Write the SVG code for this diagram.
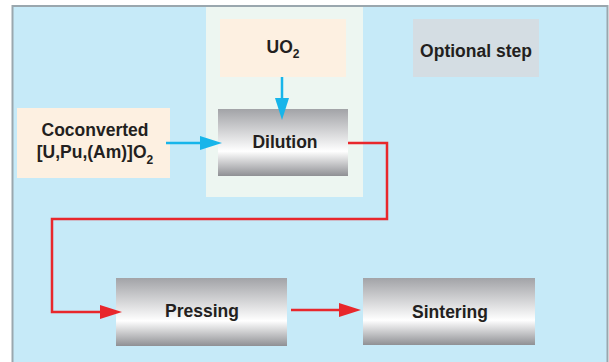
<svg xmlns="http://www.w3.org/2000/svg" width="609" height="362" viewBox="0 0 609 362">
<style>
.t{font-family:"Liberation Sans",Arial,sans-serif;font-weight:bold;font-size:17.5px;fill:#231f20;text-anchor:middle}
.peach{fill:#fdf0e1}
.proc{fill:url(#g)}
.blue{stroke:#17b5ea;stroke-width:2.5;fill:none}
.red{stroke:#e8272c;stroke-width:2.5;fill:none}
</style>
<defs>
<linearGradient id="g" x1="0" y1="0" x2="0" y2="1">
<stop offset="0" stop-color="#a2a3a7"/>
<stop offset="0.63" stop-color="#ffffff"/>
<stop offset="1" stop-color="#8f9094"/>
</linearGradient>
<marker id="ab" markerUnits="userSpaceOnUse" markerWidth="24" markerHeight="14" refX="12" refY="7" orient="auto" viewBox="0 0 24 14">
<path d="M0,0 L22,7 L0,14 Z" fill="#17b5ea"/>
</marker>
<marker id="ar" markerUnits="userSpaceOnUse" markerWidth="24" markerHeight="14" refX="12" refY="7" orient="auto" viewBox="0 0 24 14">
<path d="M0,0 L22,7 L0,14 Z" fill="#e8272c"/>
</marker>
</defs>
<rect x="12.5" y="6" width="595" height="362" fill="#c6eaf8" stroke="#9aa7ae" stroke-width="2"/>
<g id="optional-region"><rect x="206" y="7" width="157" height="190" fill="#edf6f1"/></g>
<g id="optional-step"><rect x="413" y="19" width="126" height="58" fill="#d4dde3"/><text class="t" x="476" y="57">Optional step</text></g>
<g id="uo2"><rect class="peach" x="220" y="19" width="126" height="58"/><text class="t" x="283" y="53">UO<tspan font-size="12" dy="5">2</tspan></text></g>
<g id="coconverted"><rect class="peach" x="17" y="108" width="153" height="70"/><text class="t" x="95" y="136">Coconverted</text><text class="t" x="95" y="158">[U,Pu,(Am)]O<tspan font-size="12" dy="6">2</tspan></text></g>
<g id="dilution"><rect class="proc" x="218" y="109" width="130" height="67"/><text class="t" x="285" y="148">Dilution</text></g>
<g id="pressing"><rect class="proc" x="116" y="278" width="171" height="68"/><text class="t" x="202" y="317">Pressing</text></g>
<g id="sintering"><rect class="proc" x="363" y="278" width="172" height="67"/><text class="t" x="450" y="318">Sintering</text></g>
<g id="connectors">
<path class="blue" d="M282,77 V110" marker-end="url(#ab)"/>
<path class="blue" d="M166,143 H212" marker-end="url(#ab)"/>
<path class="red" d="M348,143 H387 V219 H52 V312 H112" marker-end="url(#ar)"/>
<path class="red" d="M291,310 H351" marker-end="url(#ar)"/>
</g>
</svg>
